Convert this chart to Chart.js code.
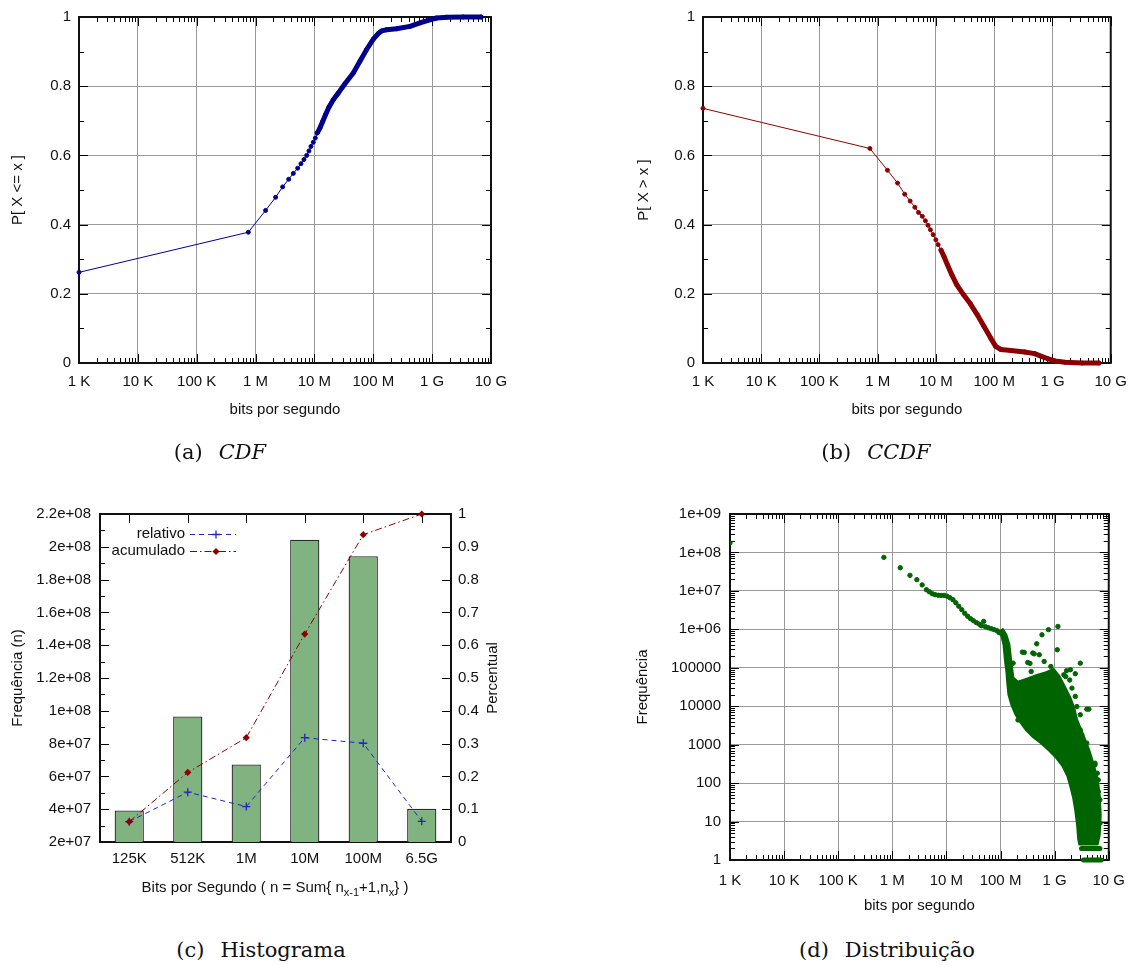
<!DOCTYPE html>
<html lang="pt">
<head>
<meta charset="utf-8">
<title>Vazão em bits por segundo</title>
<script src="https://cdn.jsdelivr.net/npm/chart.js@4.4.1/dist/chart.umd.min.js"></script>
<style>
  html, body { margin: 0; padding: 0; background: #fff; }
  body { width: 1137px; height: 965px; position: relative; overflow: hidden; }
  canvas { position: absolute; }
  .cap {
    position: absolute; transform: translateX(-50%); white-space: nowrap;
    font-family: "DejaVu Serif", "Liberation Serif", serif; font-size: 21px;
    line-height: 26px; color: #111;
  }
  .cap .gap { display: inline-block; width: 16px; }
</style>
</head>
<body>
<canvas id="cdf" width="540" height="440" style="left:0;top:0"></canvas>
<canvas id="ccdf" width="517" height="440" style="left:620px;top:0"></canvas>
<canvas id="hist" width="540" height="440" style="left:0;top:480px"></canvas>
<canvas id="dist" width="517" height="440" style="left:620px;top:480px"></canvas>

<div class="cap" style="left:220px;top:439px">(a)<span class="gap"></span><i>CDF</i></div>
<div class="cap" style="left:876px;top:439px">(b)<span class="gap"></span><i>CCDF</i></div>
<div class="cap" style="left:261px;top:937px">(c)<span class="gap"></span>Histograma</div>
<div class="cap" style="left:887px;top:937px">(d)<span class="gap"></span>Distribuição</div>

<script>
'use strict';

// ---- eixos comuns ----
const TICK_BPS = [1e3, 1e4, 1e5, 1e6, 1e7, 1e8, 1e9, 1e10];
const TICK_BPS_LABELS = ['1 K', '10 K', '100 K', '1 M', '10 M', '100 M', '1 G', '10 G'];
const TICK_PROB = [0, 0.2, 0.4, 0.6, 0.8, 1];
const TICK_PROB_LABELS = ['0', '0.2', '0.4', '0.6', '0.8', '1'];

// ---- (a) CDF ----
const cdfX = [1e3, 7.53e5, 1.48e6, 2.19e6, 2.88e6, 3.65e6, 4.38e6, 5.19e6, 5.90e6, 6.64e6,
  7.38e6, 8.07e6, 8.73e6, 9.57e6, 1.035e7, 1.12e7, 1.24e7, 1.38e7, 1.55e7, 1.77e7,
  2.09e7, 2.54e7, 3.30e7, 4.57e7, 5.93e7, 7.71e7, 1.0e8, 1.23e8, 1.40e8, 1.68e8,
  2.49e8, 4.20e8, 6.21e8, 9.18e8, 1.19e9, 1.76e9, 3.38e9, 6.8e9];
const cdfY = [0.262, 0.378, 0.441, 0.479, 0.509, 0.531, 0.548, 0.563, 0.576, 0.588,
  0.600, 0.613, 0.626, 0.638, 0.650, 0.665, 0.679, 0.698, 0.718, 0.740,
  0.761, 0.780, 0.807, 0.838, 0.872, 0.906, 0.936, 0.953, 0.960, 0.963,
  0.966, 0.973, 0.983, 0.992, 0.997, 0.999, 1.0, 1.0];

// ---- (b) CCDF ----
const ccdfX = [1e3, 7.33e5, 1.47e6, 2.19e6, 2.90e6, 3.60e6, 4.34e6, 5.02e6, 5.82e6, 6.58e6,
  7.31e6, 8.03e6, 8.94e6, 9.95e6, 1.09e7, 1.22e7, 1.37e7, 1.57e7, 1.87e7, 2.28e7,
  2.98e7, 3.89e7, 5.09e7, 6.65e7, 8.69e7, 1.06e8, 1.30e8, 1.94e8, 3.31e8, 4.94e8,
  6.47e8, 8.45e8, 1.10e9, 1.65e9, 3.22e9, 6.28e9];
const ccdfY = [0.736, 0.620, 0.557, 0.520, 0.488, 0.468, 0.450, 0.435, 0.424, 0.411,
  0.398, 0.385, 0.371, 0.356, 0.342, 0.326, 0.308, 0.284, 0.255, 0.226,
  0.197, 0.171, 0.140, 0.106, 0.072, 0.048, 0.039, 0.036, 0.032, 0.027,
  0.019, 0.012, 0.006, 0.002, 0, 0];

// ---- (c) Histograma ----
const histCats = ['125K', '512K', '1M', '10M', '100M', '6.5G'];
const histFreq = [3.92e7, 9.65e7, 6.73e7, 2.043e8, 1.943e8, 4.02e7];
const histRel = [0.062, 0.152, 0.108, 0.318, 0.301, 0.063];
const histAcc = [0.062, 0.212, 0.318, 0.634, 0.937, 1.0];
const histFreqTicks = [2e7, 4e7, 6e7, 8e7, 1e8, 1.2e8, 1.4e8, 1.6e8, 1.8e8, 2e8, 2.2e8];
const histFreqTickLabels = ['2e+07', '4e+07', '6e+07', '8e+07', '1e+08', '1.2e+08', '1.4e+08',
  '1.6e+08', '1.8e+08', '2e+08', '2.2e+08'];
const histPctTicks = [0, 0.1, 0.2, 0.3, 0.4, 0.5, 0.6, 0.7, 0.8, 0.9, 1];
const histPctTickLabels = ['0', '0.1', '0.2', '0.3', '0.4', '0.5', '0.6', '0.7', '0.8', '0.9', '1'];

// ---- (d) Distribuição ----
// pontos isolados (curva superior + pontos soltos)
const distX = [1e3, 6.98e5, 1.40e6, 2.12e6, 2.84e6, 3.56e6, 4.27e6, 4.83e6, 5.48e6, 6.2e6,
  7.05e6, 7.98e6, 9.04e6, 1.03e7, 1.16e7, 1.32e7, 1.49e7, 1.69e7, 1.92e7, 2.18e7,
  2.47e7, 2.79e7, 3.17e7, 3.59e7, 4.07e7, 4.43e7, 4.87e7, 5.24e7, 5.93e7, 6.73e7,
  7.62e7, 8.64e7, 9.4e7,
  1.15e9, 7.7e8, 5.83e8, 4.66e8, 2.53e8, 3.94e8, 1.12e9, 5.21e8, 2.98e9, 3.19e8,
  1.71e8, 1.66e9, 2.41e9, 1.9e9, 2.09e9, 3.93e9, 2.98e9, 2.1e8, 5.57e9, 6.14e9,
  6.87e9, 1.96e9, 3.69e8, 6.4e8, 8.5e8, 1.48e9, 2.41e9, 2.58e9, 3.18e9, 3.93e9,
  5.57e9, 6.4e9, 6.4e9, 4.3e9, 2.98e9, 3.93e9, 6.4e9, 5.97e9, 6.4e9, 6.87e9,
  2.75e8, 4.2e8, 3.5e8, 1.6e9];
const distY = [1.77e8, 7.45e7, 4.0e7, 2.54e7, 1.96e7, 1.43e7, 1.07e7, 9.5e6, 8.45e6, 7.96e6,
  7.7e6, 7.63e6, 7.63e6, 7.28e6, 6.65e6, 5.9e6, 4.93e6, 4.0e6, 3.24e6, 2.62e6,
  2.19e6, 1.89e6, 1.67e6, 1.49e6, 1.36e6, 1.24e6, 1.61e6, 1.17e6, 1.10e6, 1.04e6,
  9.8e5, 9.2e5, 8.2e5,
  1.19e6, 9.8e5, 7.2e5, 4.2e5, 2.56e5, 2.42e5, 2.94e5, 2.18e5, 1.32e5, 1.37e5,
  1.32e5, 8.4e4, 7.0e4, 4.8e4, 2.96e4, 8.4e3, 6.0e3, 4.4e3, 330, 181,
  37, 8.9e4, 8.0e4, 1.46e5, 1.08e5, 6.6e4, 1.8e4, 9.8e3, 1.8e3, 600,
  298, 60, 16, 8.4e3, 2.4e3, 1.1e3, 121, 49, 22, 9,
  2.5e5, 2.3e5, 1.3e5, 5.9e4];
// contorno da nuvem densa (100M .. 7G)
const cloudX = [9.0e7, 1.06e8, 1.16e8, 1.23e8, 1.31e8, 1.37e8, 1.43e8, 1.62e8, 1.91e8, 2.35e8,
  3.03e8, 4.06e8, 5.66e8, 7.9e8, 1.06e9, 1.42e9, 1.75e9, 1.98e9, 2.25e9, 2.45e9,
  2.66e9, 2.77e9, 2.89e9, 6.14e9, 6.67e9, 6.96e9, 6.67e9, 6.14e9, 5.19e9, 4.38e9,
  3.72e9, 3.14e9, 2.55e9, 2.25e9, 1.9e9, 1.55e9, 1.2e9, 9.5e8, 7.0e8, 4.6e8,
  3.0e8, 2.1e8, 1.69e8, 1.55e8, 1.43e8, 1.26e8, 1.06e8];
const cloudY = [9.2e5, 6.8e5, 4.0e5, 1.6e5, 7.9e4, 3.6e4, 2.0e4, 1.09e4, 6.3e3, 3.9e3,
  2.4e3, 1.6e3, 1.12e3, 730, 480, 280, 154, 85, 41, 20,
  8.1, 3.7, 2.6, 2.6, 4.5, 15, 49, 121, 298, 650,
  1180, 2150, 4400, 9100, 1.7e4, 3.0e4, 6.0e4, 9.0e4, 7.5e4, 6.2e4,
  5.0e4, 4.2e4, 5.5e4, 1.43e5, 4.0e5, 7.2e5, 1.04e6];
const band2X = [3.14e9, 6.87e9];
const band2Y = [2, 2];
const band1X = [3.42e9, 7.26e9];
const band1Y = [1, 1];
const TICK_FREQ = [1, 10, 100, 1e3, 1e4, 1e5, 1e6, 1e7, 1e8, 1e9];
const TICK_FREQ_LABELS = ['1', '10', '100', '1000', '10000', '100000', '1e+06', '1e+07', '1e+08', '1e+09'];

// ---- estilo ----
const FONT = '"Liberation Sans", Arial, Helvetica, sans-serif';
const TEXT = '#111';
const GRID = '#999999';
const C_CDF = '#00008b';
const C_CCDF = '#8b0000';
const C_BAR = '#80b380';
const C_REL = '#2323c8';
const C_ACC = '#8b0000';
const C_DIST = '#006400';
const DENSE_FROM = 1.1e7;   // a partir daqui os pontos viram faixa grossa

Chart.defaults.font.family = FONT;
Chart.defaults.font.size = 15;
Chart.defaults.color = TEXT;
Chart.defaults.animation = false;
Chart.defaults.plugins.legend.display = false;
Chart.defaults.plugins.tooltip.enabled = false;

const zip = (xs, ys) => xs.map((x, i) => ({ x, y: ys[i] }));
const fixTicks = (vals) => (s) => { s.ticks = vals.map(v => ({ value: v })); };
const logMinor = (lo, hi) => {
  const out = [];
  for (let e = lo; e < hi; e++) for (let k = 2; k <= 9; k++) out.push(k * Math.pow(10, e));
  return out;
};
const PROB_MINOR = [0.1, 0.3, 0.5, 0.7, 0.9];

// Moldura estilo gnuplot: borda preta + marcas para dentro
const gpFrame = {
  id: 'gpFrame',
  beforeDatasetsDraw(chart, _, o) {
    const { ctx, chartArea: a } = chart;
    ctx.save();
    ctx.strokeStyle = '#000';
    ctx.lineWidth = 1;
    (o.ticks || []).forEach(t => {
      const sc = chart.scales[t.scale];
      t.values.forEach(v => {
        const p = Math.round(sc.getPixelForValue(v)) + 0.5;
        ctx.beginPath();
        t.sides.forEach(side => {
          if (side === 'bottom') { ctx.moveTo(p, a.bottom); ctx.lineTo(p, a.bottom - t.len); }
          if (side === 'top') { ctx.moveTo(p, a.top); ctx.lineTo(p, a.top + t.len); }
          if (side === 'left') { ctx.moveTo(a.left, p); ctx.lineTo(a.left + t.len, p); }
          if (side === 'right') { ctx.moveTo(a.right, p); ctx.lineTo(a.right - t.len, p); }
        });
        ctx.stroke();
      });
    });
    ctx.lineWidth = 2;
    ctx.strokeStyle = '#111';
    ctx.strokeRect(a.left, a.top, a.right - a.left, a.bottom - a.top);
    ctx.restore();
  }
};

// Textos com subscrito / rotação livre
function drawRich(ctx, item) {
  const base = `${item.size}px ${FONT}`;
  const small = `${Math.round(item.size * 0.72)}px ${FONT}`;
  let w = 0;
  item.parts.forEach(p => { ctx.font = p.sub ? small : base; w += ctx.measureText(p.t).width; });
  ctx.save();
  ctx.translate(item.x, item.y);
  if (item.rot) ctx.rotate(item.rot);
  ctx.fillStyle = TEXT;
  ctx.textBaseline = 'middle';
  let x = -w / 2;
  item.parts.forEach(p => {
    ctx.font = p.sub ? small : base;
    ctx.fillText(p.t, x, p.sub ? item.size * 0.32 : 0);
    x += ctx.measureText(p.t).width;
  });
  ctx.restore();
}
const richText = {
  id: 'richText',
  afterDraw(chart, _, o) { (o.items || []).forEach(it => drawRich(chart.ctx, it)); }
};

// Legenda dentro do gráfico (texto à esquerda, amostra à direita)
function drawMarker(ctx, style, x, y, r, color) {
  ctx.save();
  ctx.setLineDash([]);
  ctx.strokeStyle = color; ctx.fillStyle = color; ctx.lineWidth = 1.3;
  ctx.beginPath();
  if (style === 'cross') {
    ctx.moveTo(x - r, y); ctx.lineTo(x + r, y); ctx.moveTo(x, y - r); ctx.lineTo(x, y + r);
    ctx.stroke();
  } else {
    ctx.moveTo(x, y - r); ctx.lineTo(x + r, y); ctx.lineTo(x, y + r); ctx.lineTo(x - r, y);
    ctx.closePath(); ctx.fill();
  }
  ctx.restore();
}
const gpLegend = {
  id: 'gpLegend',
  afterDatasetsDraw(chart, _, o) {
    const { ctx, chartArea: a } = chart;
    let row = 0;
    chart.data.datasets.forEach(ds => {
      if (ds.type !== 'line') return;
      const y = a.top + o.top + row * o.rowH;
      ctx.save();
      ctx.font = `15px ${FONT}`;
      ctx.fillStyle = TEXT;
      ctx.textAlign = 'right';
      ctx.textBaseline = 'middle';
      ctx.fillText(ds.label, a.left + o.textRight, y);
      ctx.strokeStyle = ds.borderColor;
      ctx.lineWidth = 1;
      ctx.setLineDash(ds.borderDash || []);
      ctx.beginPath();
      ctx.moveTo(a.left + o.sampleFrom, y + 0.5);
      ctx.lineTo(a.left + o.sampleTo, y + 0.5);
      ctx.stroke();
      ctx.restore();
      drawMarker(ctx, ds.pointStyle, a.left + o.marker, y + 0.5, ds.pointRadius, ds.borderColor);
      row++;
    });
  }
};

function bpsAxis(h, tickPad, titlePad) {
  return {
    type: 'logarithmic', min: 1e3, max: 1e10,
    afterBuildTicks: fixTicks(TICK_BPS),
    afterFit: s => { s.height = h; },
    ticks: { autoSkip: false, maxRotation: 0, padding: tickPad, callback: (v, i) => TICK_BPS_LABELS[i] },
    grid: { color: GRID, drawTicks: false },
    border: { display: false },
    title: { display: true, text: 'bits por segundo', padding: { top: 0, bottom: titlePad } }
  };
}

function probChart(id, xs, ys, color, yTitle, yW, yTitlePad, padRight) {
  return new Chart(document.getElementById(id), {
    type: 'line',
    data: {
      datasets: [{
        label: yTitle,
        data: zip(xs, ys),
        borderColor: color,
        backgroundColor: color,
        borderWidth: 1,
        borderCapStyle: 'round',
        borderJoinStyle: 'round',
        pointRadius: 2,
        pointBorderWidth: 1,
        pointBackgroundColor: color,
        pointBorderColor: color,
        tension: 0,
        clip: 6,
        segment: { borderWidth: c => (xs[c.p0DataIndex] >= DENSE_FROM ? 5 : 1) }
      }]
    },
    options: {
      responsive: false,
      layout: { padding: { top: 17, right: padRight, left: 0, bottom: 0 } },
      plugins: {
        gpFrame: {
          ticks: [
            { scale: 'x', values: TICK_BPS, len: 9, sides: ['bottom', 'top'] },
            { scale: 'x', values: logMinor(3, 10), len: 5, sides: ['bottom', 'top'] },
            { scale: 'y', values: TICK_PROB, len: 9, sides: ['left', 'right'] },
            { scale: 'y', values: PROB_MINOR, len: 5, sides: ['left', 'right'] }
          ]
        }
      },
      scales: {
        x: bpsAxis(77, 10, 21),
        y: {
          min: 0, max: 1,
          afterBuildTicks: fixTicks(TICK_PROB),
          afterFit: s => { s.width = yW; },
          ticks: { padding: 8, callback: (v, i) => TICK_PROB_LABELS[i] },
          grid: { color: GRID, drawTicks: false },
          border: { display: false },
          title: { display: true, text: yTitle, padding: { top: yTitlePad, bottom: 0 } }
        }
      }
    },
    plugins: [gpFrame]
  });
}

function drawHist() {
  const freqMinor = histFreqTicks.slice(0, -1).map(v => v + 1e7);
  return new Chart(document.getElementById('hist'), {
    type: 'bar',
    data: {
      labels: histCats,
      datasets: [
        {
          type: 'line', label: 'relativo', data: histRel, yAxisID: 'y2',
          borderColor: C_REL, backgroundColor: C_REL, borderWidth: 1, borderDash: [5, 4],
          pointStyle: 'cross', pointRadius: 4, pointBorderWidth: 1.3, tension: 0, order: 1, clip: 6
        },
        {
          type: 'line', label: 'acumulado', data: histAcc, yAxisID: 'y2',
          borderColor: C_ACC, backgroundColor: C_ACC, borderWidth: 1, borderDash: [7, 3, 1.5, 3],
          pointStyle: 'rectRot', pointRadius: 3.6, pointBorderWidth: 0, tension: 0, order: 0, clip: 6
        },
        {
          type: 'bar', label: 'Frequência', data: histFreq, yAxisID: 'y',
          backgroundColor: C_BAR, borderColor: '#2a2a2a', borderWidth: 1.3,
          barPercentage: 0.5, categoryPercentage: 1, order: 2
        }
      ]
    },
    options: {
      responsive: false,
      layout: { padding: { top: 34, right: 0, left: 0, bottom: 0 } },
      plugins: {
        gpFrame: {
          ticks: [
            { scale: 'x', values: [0, 1, 2, 3, 4, 5], len: 9, sides: ['bottom', 'top'] },
            { scale: 'y', values: histFreqTicks, len: 9, sides: ['left'] },
            { scale: 'y', values: freqMinor, len: 5, sides: ['left'] },
            { scale: 'y2', values: histPctTicks, len: 9, sides: ['right'] }
          ]
        },
        gpLegend: { top: 20, rowH: 17, textRight: 85, sampleFrom: 90, sampleTo: 136, marker: 116 },
        richText: {
          items: [
            {
              x: 275, y: 408, size: 15,
              parts: [{ t: 'Bits por Segundo ( n = Sum{ n' }, { t: 'x-1', sub: true },
                { t: '+1,n' }, { t: 'x', sub: true }, { t: '} )' }]
            },
            { x: 493, y: 198, size: 15, rot: -Math.PI / 2, parts: [{ t: 'Percentual' }] }
          ]
        }
      },
      scales: {
        x: {
          offset: true,
          afterFit: s => { s.height = 78; },
          ticks: { padding: 8, maxRotation: 0, autoSkip: false },
          grid: { display: false, drawTicks: false },
          border: { display: false }
        },
        y: {
          position: 'left', min: 2e7, max: 2.2e8,
          afterBuildTicks: fixTicks(histFreqTicks),
          afterFit: s => { s.width = 100; },
          ticks: { padding: 9, callback: (v, i) => histFreqTickLabels[i] },
          grid: { display: false, drawTicks: false },
          border: { display: false },
          title: { display: true, text: 'Frequência (n)', padding: { top: 9, bottom: 0 } }
        },
        y2: {
          position: 'right', min: 0, max: 1,
          afterBuildTicks: fixTicks(histPctTicks),
          afterFit: s => { s.width = 89; },
          ticks: { padding: 7, callback: (v, i) => histPctTickLabels[i] },
          grid: { display: false, drawTicks: false },
          border: { display: false }
        }
      }
    },
    plugins: [gpFrame, gpLegend, richText]
  });
}

function drawDist() {
  return new Chart(document.getElementById('dist'), {
    type: 'scatter',
    data: {
      datasets: [
        {
          type: 'line', label: 'nuvem', data: zip(cloudX, cloudY), fill: 'shape',
          backgroundColor: C_DIST, borderColor: C_DIST, borderWidth: 3, borderJoinStyle: 'round',
          pointRadius: 0, tension: 0
        },
        {
          type: 'line', label: 'n = 2', data: zip(band2X, band2Y), fill: false,
          borderColor: C_DIST, borderWidth: 5, borderCapStyle: 'round', pointRadius: 0
        },
        {
          type: 'line', label: 'n = 1', data: zip(band1X, band1Y), fill: false, clip: 4,
          borderColor: C_DIST, borderWidth: 5, borderCapStyle: 'round', pointRadius: 0
        },
        {
          label: 'Frequência', data: zip(distX, distY),
          pointRadius: 2.2, pointBorderWidth: 1,
          backgroundColor: C_DIST, borderColor: C_DIST
        }
      ]
    },
    options: {
      responsive: false,
      layout: { padding: { top: 34, right: 21, left: 0, bottom: 0 } },
      plugins: {
        gpFrame: {
          ticks: [
            { scale: 'x', values: TICK_BPS, len: 9, sides: ['bottom', 'top'] },
            { scale: 'x', values: logMinor(3, 10), len: 5, sides: ['bottom', 'top'] },
            { scale: 'y', values: TICK_FREQ, len: 9, sides: ['left', 'right'] },
            { scale: 'y', values: logMinor(0, 9), len: 5, sides: ['left', 'right'] }
          ]
        }
      },
      scales: {
        x: bpsAxis(60, 12, 5),
        y: {
          type: 'logarithmic', min: 1, max: 1e9,
          afterBuildTicks: fixTicks(TICK_FREQ),
          afterFit: s => { s.width = 110; },
          ticks: { padding: 9, autoSkip: false, callback: (v, i) => TICK_FREQ_LABELS[i] },
          grid: { color: GRID, drawTicks: false },
          border: { display: false },
          title: { display: true, text: 'Frequência', padding: { top: 14, bottom: 0 } }
        }
      }
    },
    plugins: [gpFrame]
  });
}

function init() {
  probChart('cdf', cdfX, cdfY, C_CDF, 'P[ X <= x ]', 79, 9, 49);
  probChart('ccdf', ccdfX, ccdfY, C_CCDF, 'P[ X > x ]', 83, 15, 19);
  drawHist();
  drawDist();
}

if (document.readyState === 'loading') {
  document.addEventListener('DOMContentLoaded', init);
} else {
  init();
}
</script>
</body>
</html>
